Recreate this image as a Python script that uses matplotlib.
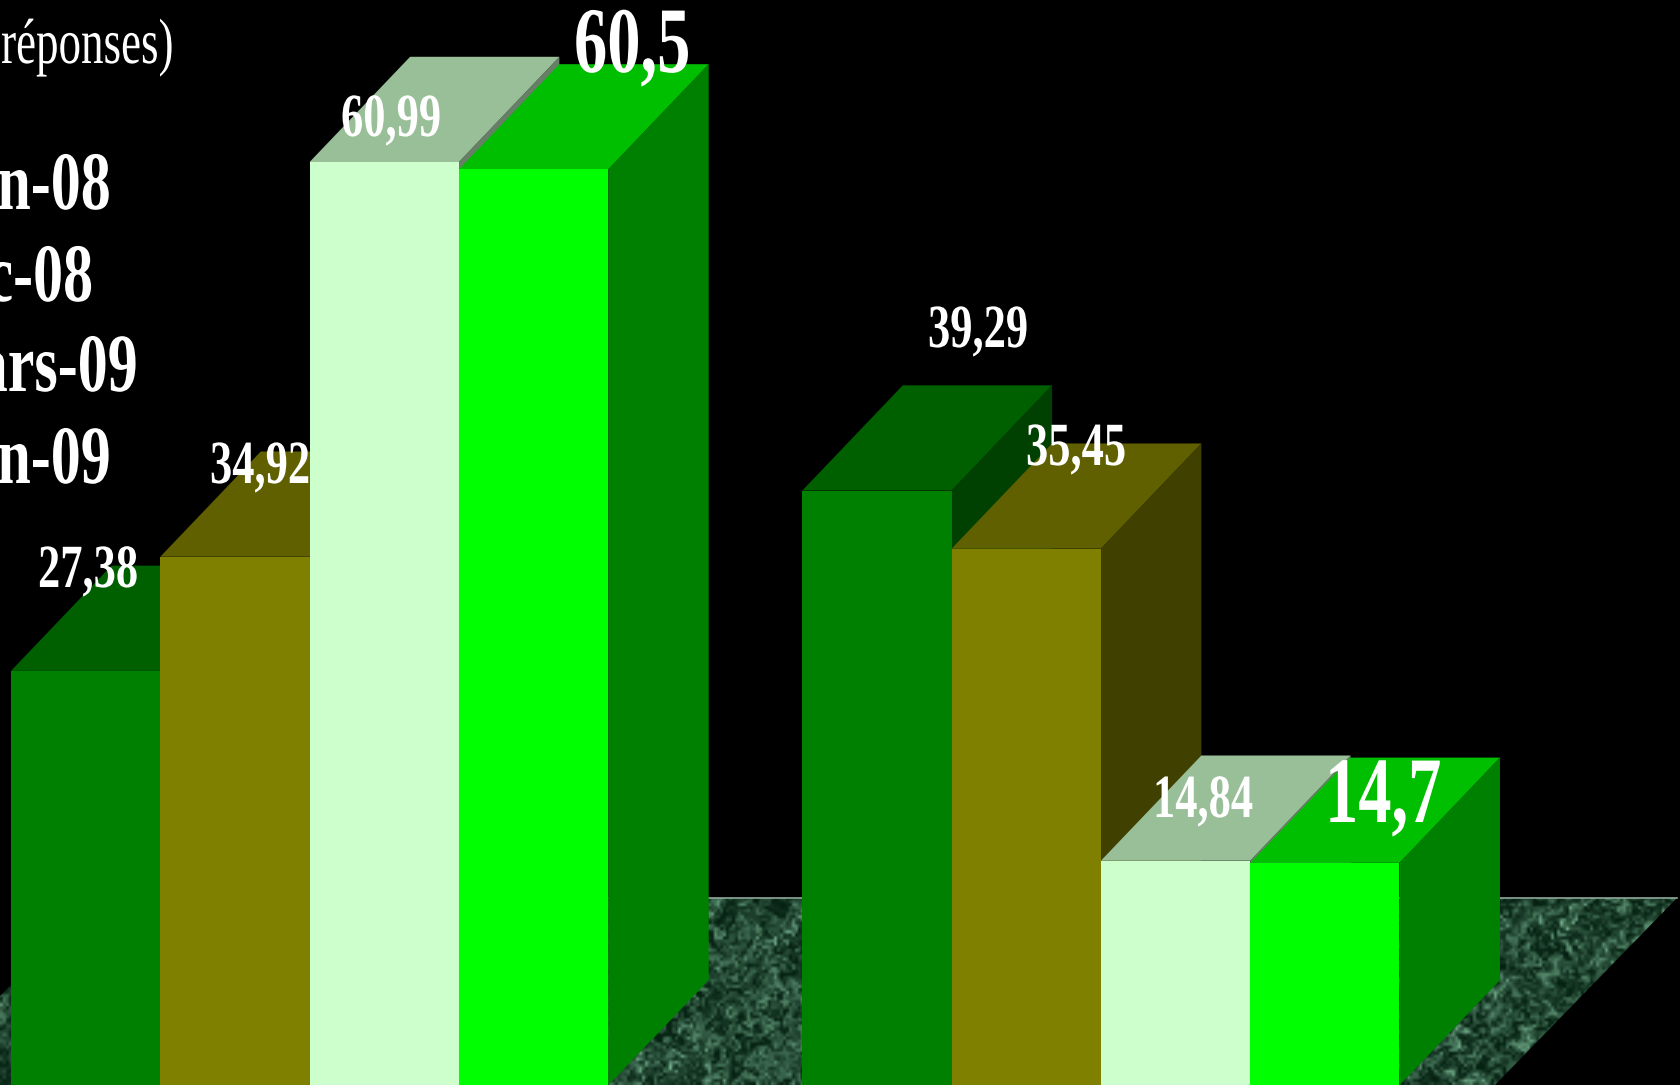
import numpy as np
import matplotlib
matplotlib.use("Agg")
import matplotlib.pyplot as plt
from matplotlib.patches import Polygon
from matplotlib.patheffects import AbstractPathEffect
from matplotlib.transforms import Affine2D

# ---- data ----
series_names = ["Juin-08", "Déc-08", "Mars-09", "Juin-09"]
group_a = [27.38, 34.92, 60.99, 60.5]
group_b = [39.29, 35.45, 14.84, 14.7]
title_text = "(% des réponses)"

# ---- styles ----
FRONT = ["#008000", "#808000", "#CCFFCC", "#00FF00"]
TOP = ["#006000", "#606000", "#99BF99", "#00BF00"]
SIDE = ["#004000", "#404000", "#667F66", "#008000"]

W, H = 1680, 1085
PX_X, PX_Y = 149.3, 15.14      # px per bar width, px per value unit
X0_PX, Y0_PX = 11.0, 1085.4    # px location of the origin
DX, DY = 0.673, 6.95           # 3D depth offset
GROUP_X = [0.0, 5.3]


class StretchY(AbstractPathEffect):
    """Keeps text real while drawing it tall and narrow, as in the source."""
    def __init__(self, sy):
        super().__init__()
        self.sy = sy

    def draw_path(self, renderer, gc, tpath, affine, rgbFace=None):
        renderer.draw_path(gc, tpath, Affine2D().scale(1, self.sy) + affine, rgbFace)


fig = plt.figure(figsize=(W / 100, H / 100), dpi=100, facecolor="black")
ax = fig.add_axes([0, 0, 1, 1], facecolor="black")
ax.set_axis_off()
xlim = (-X0_PX / PX_X, (W - X0_PX) / PX_X)
ylim = ((Y0_PX - H) / PX_Y, Y0_PX / PX_Y)


def to_x(px):
    return (px - X0_PX) / PX_X


def to_y(py):
    return (Y0_PX - py) / PX_Y


# ---- floor, textured with a deterministic interference pattern ----
yy, xx = np.mgrid[0:62, 0:560].astype(float)
wx = xx + 3.5 * np.sin(yy * 0.37 + xx * 0.13) + 2.5 * np.sin(yy * 0.91 - xx * 0.47)
wy = yy + 3.5 * np.cos(xx * 0.31 - yy * 0.17) + 2.5 * np.sin(xx * 0.83 + yy * 0.59)
waves = [(0.43, 0.19, 0.0), (-0.23, 0.51, 1.3), (0.67, -0.37, 2.9), (0.31, 0.83, 4.1),
         (-0.91, 0.29, 0.7), (1.17, 0.61, 5.3), (-0.53, -1.07, 3.3), (0.13, 0.29, 2.2),
         (1.43, -0.97, 1.9), (-1.31, 1.23, 4.7)]
t = sum(np.sin(a * wx + b * wy + p) for a, b, p in waves)
t = (t - t.mean()) / t.std()
t = np.clip(0.36 + 0.2 * t, 0, 1)
c0, c1 = np.array([0.02, 0.13, 0.07]), np.array([0.48, 0.72, 0.58])
tex = c0 + (c1 - c0) * t[..., None] ** 1.4
floor_top, floor_bottom = 898, 1085
im = ax.imshow(tex, extent=(to_x(0), to_x(W), to_y(1085), to_y(floor_top)),
               aspect="auto", interpolation="bilinear", zorder=1)
floor = Polygon([(to_x(98), to_y(floor_top)), (to_x(1677), to_y(floor_top)),
                 (to_x(1495), to_y(floor_bottom)), (to_x(-89), to_y(floor_bottom))],
                closed=True, transform=ax.transData, fc="none", ec="none")
ax.add_patch(floor)
im.set_clip_path(floor)
ax.plot([to_x(98), to_x(1677)], [to_y(floor_top)] * 2, color="#8FA79B", lw=1.2, zorder=1.5)

# ---- 3D bars ----
z = 2
for gx, values in zip(GROUP_X, [group_a, group_b]):
    for i, v in enumerate(values):
        l, r = gx + i, gx + i + 1
        side = [(r, 0), (r + DX, DY), (r + DX, v + DY), (r, v)]
        top = [(l, v), (r, v), (r + DX, v + DY), (l + DX, v + DY)]
        ax.add_patch(Polygon(side, fc=SIDE[i], ec="none", zorder=z))
        ax.add_patch(Polygon(top, fc=TOP[i], ec="none", zorder=z))
        ax.bar(l, v, width=1, align="edge", color=FRONT[i], lw=0, zorder=z)
        z += 1

ax.set_xlim(*xlim)
ax.set_ylim(*ylim)


def put(px, py, s, size_px, sy, weight="bold", ha="left"):
    fig.text(px / W, 1 - py / H, s, color="white", family="Liberation Serif",
             fontweight=weight, fontsize=size_px * 0.72, ha=ha, va="baseline",
             path_effects=[StretchY(sy)], zorder=50)


def fmt(v):
    return f"{v:g}".replace(".", ",")


# ---- value labels ----
small_pos = [(38, 587), (210, 483), (341, 136), (928, 347), (1026, 465), (1153, 817)]
small_vals = [group_a[0], group_a[1], group_a[2], group_b[0], group_b[1], group_b[2]]
for (px, py), v in zip(small_pos, small_vals):
    put(px, py, fmt(v), 44.5, 1.38)
put(574, 72, fmt(group_a[3]), 66.5, 1.41)
put(1325, 822, fmt(group_b[3]), 66.5, 1.41)

# ---- legend and title, cut by the left edge as in the reference ----
legend_right = [111, 93, 138, 111]
legend_base = [209, 301, 391, 483]
for name, rx, by in zip(series_names, legend_right, legend_base):
    put(rx, by, name, 60, 1.38, ha="right")
put(173, 63, title_text, 45, 1.42, weight="normal", ha="right")

fig.savefig("out.png", dpi=100, facecolor="black")
